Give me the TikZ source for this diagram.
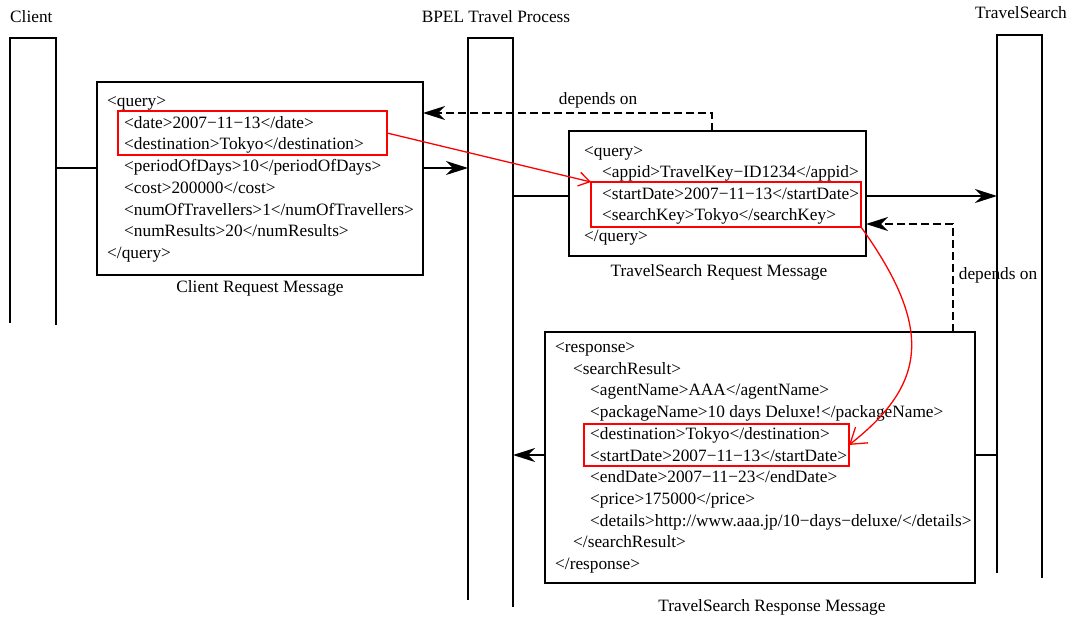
\documentclass[tikz,border=0pt]{standalone}
\usepackage{fontspec}
\setmainfont{Liberation Serif}
\usetikzlibrary{arrows.meta}
\begin{document}
\begin{tikzpicture}[x=1pt,y=-1pt,
  txt/.style={inner sep=0pt, font=\fontsize{17.3}{21.7}\selectfont},
  xml/.style={txt, anchor=base west},
  captxt/.style={txt, anchor=base},
  lifebar/.style={inner sep=0pt, outer sep=0pt, anchor=north west},
  msgbox/.style={draw, line width=1.3pt, inner sep=0pt, outer sep=0pt, anchor=north west},
  redbox/.style={draw=red, line width=1.4pt, inner sep=0pt, outer sep=0pt, anchor=north west},
  lifeside/.style={line width=1.3pt},
  msg/.style={line width=1.3pt, -{Stealth[length=22pt,width=14pt,inset=7pt]}},
  plainmsg/.style={line width=1.3pt},
  dep/.style={msg, dash pattern=on 8pt off 4pt},
  link/.style={red, line width=1.3pt},
]
\useasboundingbox (0,0) rectangle (1073,619);

% lifelines
\node[lifebar, minimum width=46pt, minimum height=285pt] (cl) at (10,38) {};
\draw[lifeside] (cl.south west) -- (cl.north west) -- (cl.north east) -- ([yshift=-2pt]cl.south east);
\node[lifebar, minimum width=45pt, minimum height=562pt] (bp) at (468,38) {};
\draw[lifeside] (bp.south west) -- (bp.north west) -- (bp.north east) -- ([yshift=-7pt]bp.south east);
\node[lifebar, minimum width=45pt, minimum height=538pt] (ts) at (997,35) {};
\draw[lifeside] (ts.south west) -- (ts.north west) -- (ts.north east) -- ([yshift=-5pt]ts.south east);

% headers
\node[txt, anchor=base west] (clt) at (10,22.7) {Client};
\node[captxt] (bpt) at (496,22.5) {BPEL Travel Process};
\node[captxt] (tst) at (1021,18.5) {TravelSearch};

% message boxes
\node[msgbox, minimum width=326pt, minimum height=193pt] (cb) at (97,82) {};
\node[msgbox, minimum width=297pt, minimum height=125pt] (qb) at (569,131) {};
\node[msgbox, minimum width=430pt, minimum height=251pt] (rb) at (545,332) {};

% client request text
\node[xml] (c1) at (107,106.5) {<query>};
\node[xml] (c2) at (124,128.2) {<date>2007−11−13</date>};
\node[xml] (c3) at (124,149.9) {<destination>Tokyo</destination>};
\node[xml] (c4) at (124,171.6) {<periodOfDays>10</periodOfDays>};
\node[xml] (c5) at (124,193.3) {<cost>200000</cost>};
\node[xml] (c6) at (124,215) {<numOfTravellers>1</numOfTravellers>};
\node[xml] (c7) at (124,236.7) {<numResults>20</numResults>};
\node[xml] (c8) at (107,258.4) {</query>};

% travelsearch request text
\node[xml] (q1) at (584,156.5) {<query>};
\node[xml] (q2) at (602,177.8) {<appid>TravelKey−ID1234</appid>};
\node[xml] (q3) at (602,199) {<startDate>2007−11−13</startDate>};
\node[xml] (q4) at (602,220.3) {<searchKey>Tokyo</searchKey>};
\node[xml] (q5) at (584,241.5) {</query>};

% travelsearch response text
\node[xml] (r1) at (555,352.5) {<response>};
\node[xml] (r2) at (573,374.2) {<searchResult>};
\node[xml] (r3) at (590,395.9) {<agentName>AAA</agentName>};
\node[xml] (r4) at (590,417.6) {<packageName>10 days Deluxe!</packageName>};
\node[xml] (r5) at (590,439.3) {<destination>Tokyo</destination>};
\node[xml] (r6) at (590,461) {<startDate>2007−11−13</startDate>};
\node[xml] (r7) at (590,482.7) {<endDate>2007−11−23</endDate>};
\node[xml] (r8) at (590,504.4) {<price>175000</price>};
\node[xml] (r9) at (590,526.1) {<details>http://www.aaa.jp/10−days−deluxe/</details>};
\node[xml] (r10) at (573,547.8) {</searchResult>};
\node[xml] (r11) at (555,569.5) {</response>};

% red highlight boxes
\node[redbox, minimum width=269pt, minimum height=44pt] (rc) at (118,111) {};
\node[redbox, minimum width=270pt, minimum height=45pt] (rt) at (591,182) {};
\node[redbox, minimum width=265pt, minimum height=42pt] (rr) at (584,424) {};

% captions
\node[captxt] (cbl) at (260,292) {Client Request Message};
\node[captxt] (qbl) at (719,276.5) {TravelSearch Request Message};
\node[captxt] (rbl) at (772,611.5) {TravelSearch Response Message};

% messages
\coordinate (m1) at (0,168);
\coordinate (m2) at (0,196);
\coordinate (m3) at (0,455);
\draw[plainmsg] (cl.east |- m1) -- (cb.west |- m1);
\draw[msg] (cb.east |- m1) -- (bp.west |- m1);
\draw[plainmsg] (bp.east |- m2) -- (qb.west |- m2);
\draw[msg] (qb.east |- m2) -- (ts.west |- m2);
\draw[plainmsg] (ts.west |- m3) -- (rb.east |- m3);
\draw[msg] (rb.west |- m3) -- (bp.east |- m3);

% dependencies
\coordinate (d1) at (712,113);
\draw[dep] (qb.north -| d1) |- (cb.east |- d1);
\node[captxt] (d1l) at (598,104) {depends on};
\coordinate (d2) at (953,224);
\draw[dep] (rb.north -| d2) |- (qb.east |- d2);
\node[captxt] (d2l) at (998,279.5) {depends on};

% red links
\draw[link, -{Straight Barb[length=11pt,width=14pt]}] (rc.east) -- (rt.north west);
\draw[link, -{Straight Barb[length=15pt,width=20pt]}] (rt.south east) .. controls (935,330) and (925,385) .. (rr.east);
\end{tikzpicture}
\end{document}
